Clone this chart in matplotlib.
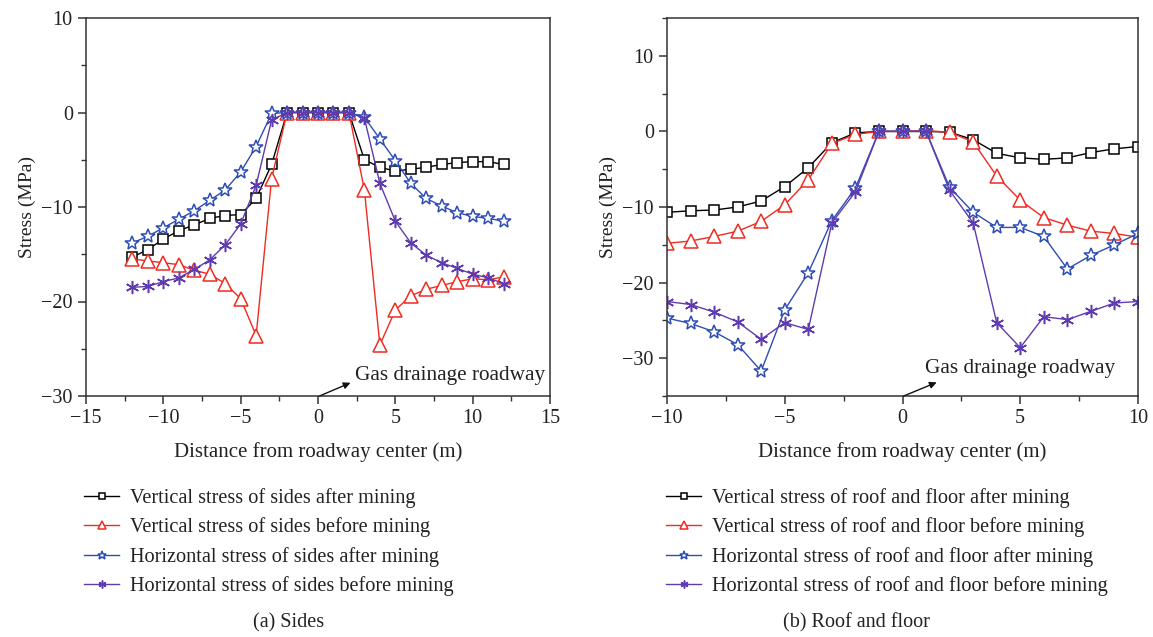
import numpy as np
import matplotlib
matplotlib.use("Agg")
import matplotlib.pyplot as plt
from matplotlib.ticker import MultipleLocator

plt.rcParams['font.family'] = ['Liberation Serif', 'DejaVu Serif']
plt.rcParams['axes.unicode_minus'] = True

# ---------------- data: (a) Sides ----------------
x_sides = list(range(-12, 13))
v_after_sides = [-15.3, -14.5, -13.4, -12.5, -11.9, -11.2, -10.9, -10.8, -9.1, -5.5,
                 0, 0, 0, 0, 0,
                 -5.0, -5.8, -6.2, -6.0, -5.8, -5.5, -5.3, -5.2, -5.2, -5.5]
v_before_sides = [-15.5, -15.7, -15.9, -16.1, -16.7, -17.1, -18.1, -19.7, -23.6, -7.0,
                  0, 0, 0, 0, 0,
                  -8.2, -24.6, -20.9, -19.4, -18.7, -18.3, -17.9, -17.6, -17.7, -17.4]
h_after_sides = [-13.8, -13.1, -12.2, -11.3, -10.4, -9.3, -8.2, -6.3, -3.6, -0.1,
                 0, 0, 0, 0, 0,
                 -0.5, -2.8, -5.1, -7.5, -9.1, -9.9, -10.6, -11.0, -11.2, -11.5]
h_before_sides = [-18.5, -18.4, -17.9, -17.5, -16.6, -15.6, -14.0, -11.8, -7.7, -0.8,
                  0, 0, 0, 0, 0,
                  -0.6, -7.5, -11.5, -13.8, -15.1, -15.9, -16.5, -17.1, -17.5, -18.1]

# ---------------- data: (b) Roof and floor ----------------
x_roof = list(range(-10, 11))
v_after_roof = [-10.7, -10.5, -10.4, -10.0, -9.2, -7.3, -4.8, -1.5, -0.2,
                0, 0, 0,
                -0.1, -1.1, -2.9, -3.5, -3.7, -3.5, -2.8, -2.3, -2.0]
v_before_roof = [-14.8, -14.5, -13.9, -13.2, -11.9, -9.7, -6.4, -1.6, -0.4,
                 0, 0, 0.1,
                 -0.1, -1.4, -5.9, -9.1, -11.4, -12.4, -13.2, -13.5, -14.0]
h_after_roof = [-24.7, -25.4, -26.5, -28.2, -31.7, -23.6, -18.7, -11.8, -7.5,
                0, 0, 0,
                -7.4, -10.7, -12.7, -12.7, -13.9, -18.2, -16.4, -15.0, -13.5]
h_before_roof = [-22.5, -22.9, -23.9, -25.2, -27.5, -25.3, -26.2, -12.1, -8.0,
                 0, 0, 0,
                 -7.8, -12.1, -25.3, -28.6, -24.5, -24.9, -23.8, -22.7, -22.5]

labels_sides = ["Vertical stress of sides after mining",
                "Vertical stress of sides before mining",
                "Horizontal stress of sides after mining",
                "Horizontal stress of sides before mining"]
labels_roof = ["Vertical stress of roof and floor after mining",
               "Vertical stress of roof and floor before mining",
               "Horizontal stress of roof and floor after mining",
               "Horizontal stress of roof and floor before mining"]
captions = ["(a) Sides", "(b) Roof and floor"]
annot_text = "Gas drainage roadway"

colors = ['#000000', '#ee2b22', '#2d4db4', '#5e3cb0']
markers = ['s', '^', '*', (6, 2, 0)]
msizes = [7.5, 9.5, 10.5, 9.5]

W, H = 1153, 637
fig = plt.figure(figsize=(W / 100, H / 100), dpi=100)

def fx(px):
    return px / W

def fy(py):
    return 1 - py / H

ax1 = fig.add_axes([fx(86), fy(396), fx(550) - fx(86), fy(18) - fy(396)])
ax2 = fig.add_axes([fx(667), fy(396), fx(1138) - fx(667), fy(18) - fy(396)])

def draw(ax, x, series, labels):
    handles = []
    for s, c, m, ms, lab in zip(series, colors, markers, msizes, labels):
        h, = ax.plot(x, s, color=c, lw=1.0, marker=m, markersize=ms,
                     markerfacecolor='white', markeredgecolor=c,
                     markeredgewidth=1.1, label=lab)
        handles.append(h)
    return handles

h1 = draw(ax1, x_sides, [v_after_sides, v_before_sides, h_after_sides, h_before_sides], labels_sides)
h2 = draw(ax2, x_roof, [v_after_roof, v_before_roof, h_after_roof, h_before_roof], labels_roof)

ax1.set_xlim(-15, 15)
ax1.set_ylim(-30, 10)
ax1.xaxis.set_major_locator(MultipleLocator(5))
ax1.xaxis.set_minor_locator(MultipleLocator(2.5))
ax1.yaxis.set_major_locator(MultipleLocator(10))
ax1.yaxis.set_minor_locator(MultipleLocator(5))

ax2.set_xlim(-10, 10)
ax2.set_ylim(-35, 15)
ax2.xaxis.set_major_locator(MultipleLocator(5))
ax2.xaxis.set_minor_locator(MultipleLocator(2.5))
ax2.yaxis.set_major_locator(MultipleLocator(10))
ax2.yaxis.set_minor_locator(MultipleLocator(5))

for ax in (ax1, ax2):
    for sp in ax.spines.values():
        sp.set_linewidth(1.1)
        sp.set_color('#333333')
    ax.tick_params(which='major', direction='out', length=6, width=1.1,
                   labelsize=14.5, colors='#333333', labelcolor='#222222')
    ax.tick_params(which='minor', direction='out', length=3.5, width=1.0, colors='#333333')
    ax.set_xlabel("Distance from roadway center (m)", fontsize=15, color='#222222', labelpad=10)
    ax.set_ylabel("Stress (MPa)", fontsize=14, color='#222222', labelpad=4)

ax1.annotate("", xy=(2.1, -28.6), xytext=(0.1, -30),
             arrowprops=dict(arrowstyle='-|>', color='#111111', lw=1.0,
                             mutation_scale=10, shrinkA=0, shrinkB=0))
ax1.text(2.4, -27.8, annot_text, fontsize=15.3, color='#222222', va='center', ha='left')

ax2.annotate("", xy=(1.45, -33.2), xytext=(0.05, -35),
             arrowprops=dict(arrowstyle='-|>', color='#111111', lw=1.0,
                             mutation_scale=10, shrinkA=0, shrinkB=0))
ax2.text(0.95, -31.3, annot_text, fontsize=15.3, color='#222222', va='center', ha='left')

leg_kw = dict(frameon=False, fontsize=14.6, handlelength=1.75, handletextpad=0.5,
              labelspacing=0.47, borderpad=0, borderaxespad=0, markerscale=0.6,
              loc='upper left')
leg1 = fig.legend(handles=h1, bbox_to_anchor=(fx(84), fy(488)), **leg_kw)
leg2 = fig.legend(handles=h2, bbox_to_anchor=(fx(666), fy(488)), **leg_kw)
for leg in (leg1, leg2):
    for t in leg.get_texts():
        t.set_color('#222222')

fig.text(fx(289), fy(623), captions[0], fontsize=14.5, ha='center', va='center', color='#222222')
fig.text(fx(856), fy(623), captions[1], fontsize=14.5, ha='center', va='center', color='#222222')

fig.savefig("out.png", dpi=100)
